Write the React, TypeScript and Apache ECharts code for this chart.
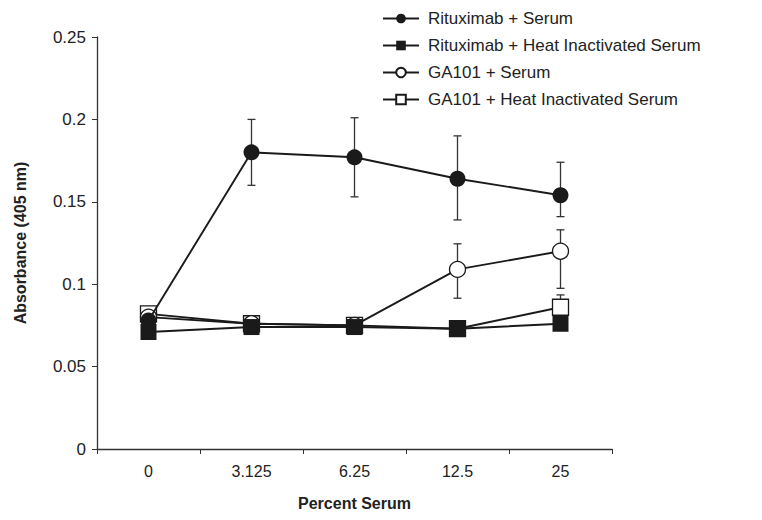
import React, { useEffect, useRef } from "react";
import * as echarts from "echarts";

const categories = ["0", "3.125", "6.25", "12.5", "25"];
const yTicks = [0, 0.05, 0.1, 0.15, 0.2, 0.25];

const rituxSerum = [0.078, 0.18, 0.177, 0.164, 0.154];
const rituxSerumLow = [null, 0.16, 0.153, 0.139, 0.141];
const rituxSerumHigh = [null, 0.2, 0.201, 0.19, 0.174];

const rituxHeat = [0.071, 0.074, 0.074, 0.073, 0.076];

const gaSerum = [0.08, 0.076, 0.075, 0.109, 0.12];
const gaSerumLow = [null, null, null, 0.0915, 0.0975];
const gaSerumHigh = [null, null, null, 0.1245, 0.133];

const gaHeat = [0.082, 0.076, 0.075, 0.073, 0.086];
const gaHeatLow = [null, null, null, null, 0.08];
const gaHeatHigh = [null, null, null, null, 0.0935];

const names = [
  "Rituximab + Serum",
  "Rituximab + Heat Inactivated Serum",
  "GA101 + Serum",
  "GA101 + Heat Inactivated Serum",
];

const INK = "#1a1a1a";

function errData(low: (number | null)[], high: (number | null)[]) {
  const out: number[][] = [];
  low.forEach((l, i) => {
    const h = high[i];
    if (l != null && h != null) out.push([i, l, h]);
  });
  return out;
}

function errSeries(low: (number | null)[], high: (number | null)[]) {
  return {
    type: "custom",
    silent: true,
    z: 1,
    data: errData(low, high),
    renderItem: (params: any, api: any) => {
      const x = api.value(0);
      const lo = api.coord([x, api.value(1)]);
      const hi = api.coord([x, api.value(2)]);
      const cap = 4;
      const style = { stroke: "#333", lineWidth: 1.3 };
      return {
        type: "group",
        children: [
          { type: "line", shape: { x1: lo[0], y1: lo[1], x2: hi[0], y2: hi[1] }, style },
          { type: "line", shape: { x1: lo[0] - cap, y1: lo[1], x2: lo[0] + cap, y2: lo[1] }, style },
          { type: "line", shape: { x1: hi[0] - cap, y1: hi[1], x2: hi[0] + cap, y2: hi[1] }, style },
        ],
      };
    },
  };
}

function lineSeries(name: string, data: number[], symbol: string, filled: boolean, z: number) {
  return {
    name,
    type: "line",
    data,
    symbol,
    symbolSize: 16,
    showAllSymbol: true,
    z,
    lineStyle: { color: INK, width: 1.9 },
    itemStyle: {
      color: filled ? INK : "#ffffff",
      borderColor: INK,
      borderWidth: filled ? 0 : 1.3,
      opacity: 1,
    },
  };
}

export default function App() {
  const ref = useRef<HTMLDivElement>(null);
  useEffect(() => {
    document.body.style.margin = "0";
    const chart = echarts.init(ref.current!, null, { renderer: "svg" });
    chart.setOption({
      animation: false,
      backgroundColor: "#ffffff",
      textStyle: { fontFamily: "Liberation Sans, Arial, sans-serif" },
      legend: {
        orient: "vertical",
        left: 377,
        top: 5,
        itemWidth: 36,
        itemHeight: 12,
        itemGap: 10,
        textStyle: { fontSize: 17, color: "#222", padding: [0, 0, 0, 4] },
        data: names,
      },
      grid: { left: 97, right: 150, top: 37, bottom: 71 },
      xAxis: {
        type: "category",
        data: categories,
        boundaryGap: true,
        axisLine: { lineStyle: { color: "#333", width: 1.3 } },
        axisTick: { show: true, interval: 0, length: 5, lineStyle: { color: "#333" } },
        axisLabel: { fontSize: 16, color: "#222", margin: 14 },
        name: "Percent Serum",
        nameLocation: "middle",
        nameGap: 46,
        nameTextStyle: { fontSize: 16, fontWeight: "bold", color: "#222" },
      },
      yAxis: {
        type: "value",
        min: yTicks[0],
        max: yTicks[yTicks.length - 1],
        interval: 0.05,
        splitLine: { show: false },
        axisLine: { show: true, lineStyle: { color: "#333", width: 1.3 } },
        axisTick: { show: true, length: 5, lineStyle: { color: "#333" } },
        axisLabel: { fontSize: 17, color: "#222", margin: 11 },
        name: "Absorbance (405 nm)",
        nameLocation: "middle",
        nameGap: 69,
        nameRotate: 90,
        nameTextStyle: { fontSize: 16, fontWeight: "bold", color: "#222" },
      },
      series: [
        errSeries(rituxSerumLow, rituxSerumHigh),
        errSeries(gaSerumLow, gaSerumHigh),
        errSeries(gaHeatLow, gaHeatHigh),
        lineSeries(names[3], gaHeat, "rect", false, 2),
        lineSeries(names[2], gaSerum, "circle", false, 3),
        lineSeries(names[1], rituxHeat, "rect", true, 4),
        lineSeries(names[0], rituxSerum, "circle", true, 5),
      ],
    });
    return () => chart.dispose();
  }, []);
  return <div ref={ref} style={{ width: 762, height: 520 }} />;
}
